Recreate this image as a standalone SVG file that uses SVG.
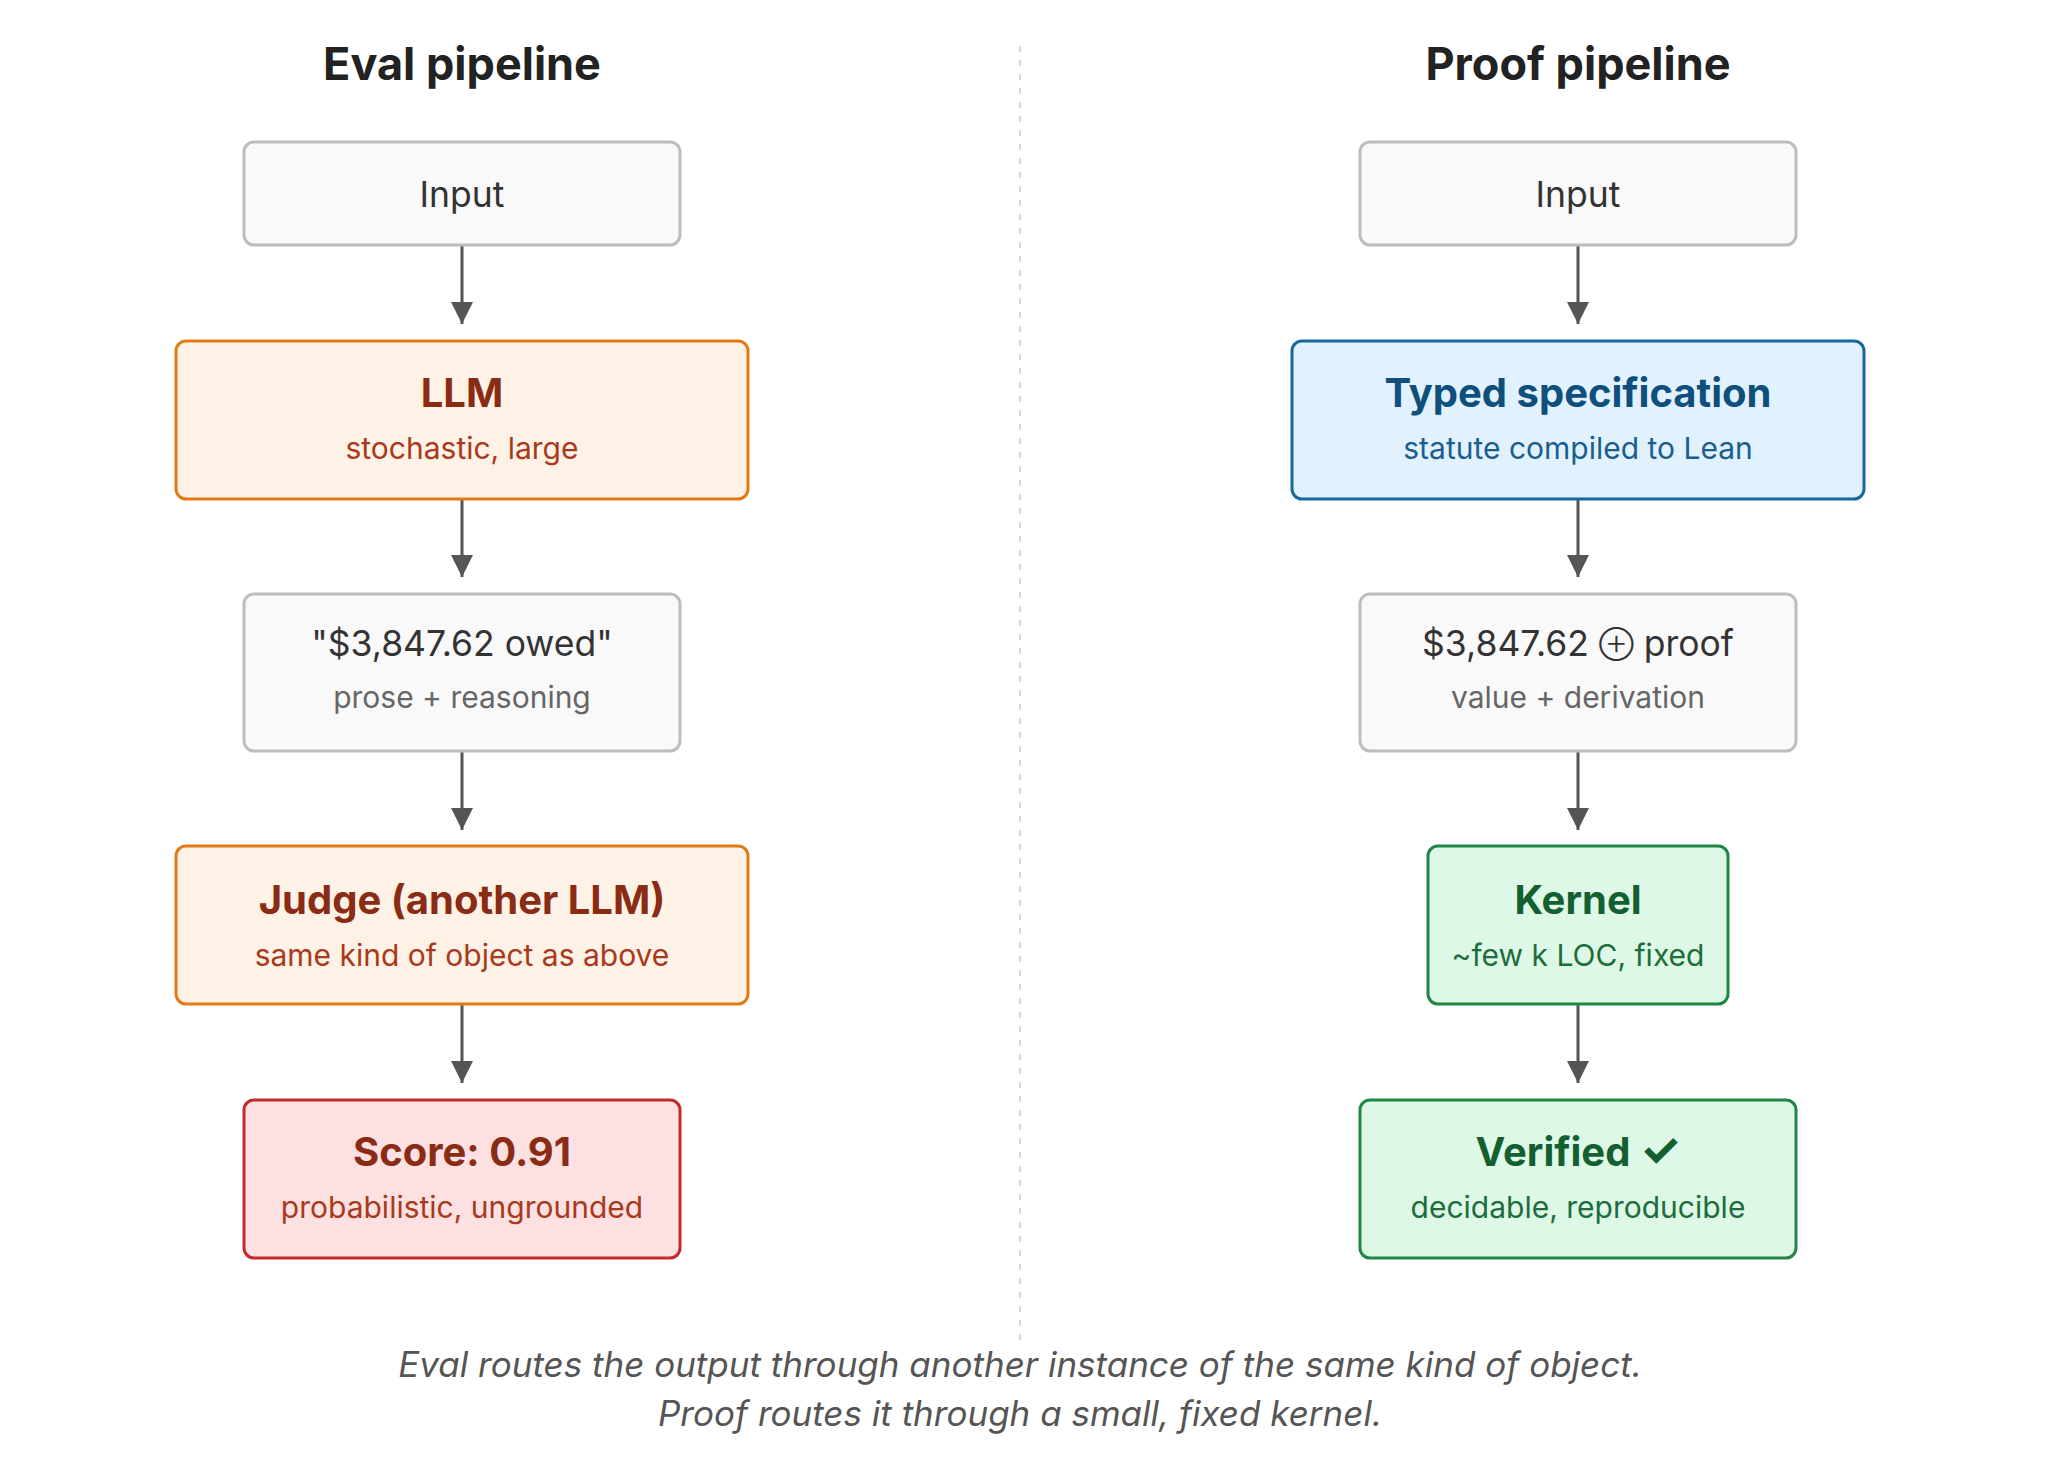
<svg xmlns="http://www.w3.org/2000/svg" width="2048" height="1467" viewBox="0 0 2048 1467">
<defs>
<style>
text{font-family:Inter,"Liberation Sans",sans-serif;text-anchor:middle}
.title{font-size:45px;font-weight:700;fill:#222}
.box{stroke-width:3}
.gray{fill:#f9f9f9;stroke:#bdbdbd}
.orange{fill:#fef1e5;stroke:#df7c16}
.red{fill:#fde0e1;stroke:#c42a2a}
.blue{fill:#e1f1fd;stroke:#17679d}
.green{fill:#ddf8e6;stroke:#208646}
.main{font-size:35.5px;fill:#333}
.sub{font-size:30px;fill:#666}
.head{font-size:40px;font-weight:700}
.sub2{font-size:30px}
.ot{fill:#8a2b14}.os{fill:#a83a1c}
.bt{fill:#0f4f7b}.bs{fill:#1a5e90}
.gt{fill:#145f30}.gs{fill:#1c6d3a}
.edge{stroke:#555;stroke-width:3;fill:none}
.cap{font-size:35px;font-style:italic;fill:#555}
</style>
<marker id="ah" viewBox="0 0 10 10" refX="10" refY="5" markerWidth="7.5" markerHeight="7.5" orient="auto" markerUnits="strokeWidth">
<path d="M0,0 L10,5 L0,10 z" fill="#555"/>
</marker>
</defs>
<rect width="2048" height="1467" fill="#fff"/>
<line x1="1020" y1="46" x2="1020" y2="1340" stroke="#d8d8d8" stroke-width="2" stroke-dasharray="6 8"/>
<text class="title" x="462" y="80">Eval pipeline</text>
<text class="title" x="1578" y="80">Proof pipeline</text>

<g id="connectors">
<line class="edge" x1="462" y1="245" x2="462" y2="324" marker-end="url(#ah)"/>
<line class="edge" x1="462" y1="499" x2="462" y2="577" marker-end="url(#ah)"/>
<line class="edge" x1="462" y1="751" x2="462" y2="830" marker-end="url(#ah)"/>
<line class="edge" x1="462" y1="1004" x2="462" y2="1083" marker-end="url(#ah)"/>
<line class="edge" x1="1578" y1="245" x2="1578" y2="324" marker-end="url(#ah)"/>
<line class="edge" x1="1578" y1="499" x2="1578" y2="577" marker-end="url(#ah)"/>
<line class="edge" x1="1578" y1="751" x2="1578" y2="830" marker-end="url(#ah)"/>
<line class="edge" x1="1578" y1="1004" x2="1578" y2="1083" marker-end="url(#ah)"/>
</g>

<g id="eval-input">
<rect class="box gray" x="244" y="142" width="436" height="103" rx="10"/>
<text class="main" x="462" y="207">Input</text>
</g>
<g id="eval-llm">
<rect class="box orange" x="176" y="341" width="572" height="158" rx="10"/>
<text class="head ot" x="462" y="407">LLM</text>
<text class="sub2 os" x="462" y="459">stochastic, large</text>
</g>
<g id="eval-prose">
<rect class="box gray" x="244" y="594" width="436" height="157" rx="10"/>
<text class="main" x="462" y="656">"$3,847.62 owed"</text>
<text class="sub" x="462" y="708">prose + reasoning</text>
</g>
<g id="eval-judge">
<rect class="box orange" x="176" y="846" width="572" height="158" rx="10"/>
<text class="head ot" x="462" y="914">Judge (another LLM)</text>
<text class="sub2 os" x="462" y="966">same kind of object as above</text>
</g>
<g id="eval-score">
<rect class="box red" x="244" y="1100" width="436" height="158" rx="10"/>
<text class="head ot" x="462" y="1166">Score: 0.91</text>
<text class="sub2 os" x="462" y="1218">probabilistic, ungrounded</text>
</g>

<g id="proof-input">
<rect class="box gray" x="1360" y="142" width="436" height="103" rx="10"/>
<text class="main" x="1578" y="207">Input</text>
</g>
<g id="proof-spec">
<rect class="box blue" x="1292" y="341" width="572" height="158" rx="10"/>
<text class="head bt" x="1578" y="407">Typed specification</text>
<text class="sub2 bs" x="1578" y="459">statute compiled to Lean</text>
</g>
<g id="proof-value">
<rect class="box gray" x="1360" y="594" width="436" height="157" rx="10"/>
<text class="main" x="1578" y="656">$3,847.62 <tspan font-size="25" dy="-3">⊕</tspan><tspan dy="3"> proof</tspan></text>
<text class="sub" x="1578" y="708">value + derivation</text>
</g>
<g id="proof-kernel">
<rect class="box green" x="1428" y="846" width="300" height="158" rx="10"/>
<text class="head gt" x="1578" y="914">Kernel</text>
<text class="sub2 gs" x="1578" y="966">~few k LOC, fixed</text>
</g>
<g id="proof-verified">
<rect class="box green" x="1360" y="1100" width="436" height="158" rx="10"/>
<text class="head gt" x="1578" y="1166">Verified <tspan font-size="46">✓</tspan></text>
<text class="sub2 gs" x="1578" y="1218">decidable, reproducible</text>
</g>

<text class="cap" x="1020" y="1377">Eval routes the output through another instance of the same kind of object.</text>
<text class="cap" x="1020" y="1426">Proof routes it through a small, fixed kernel.</text>
</svg>
